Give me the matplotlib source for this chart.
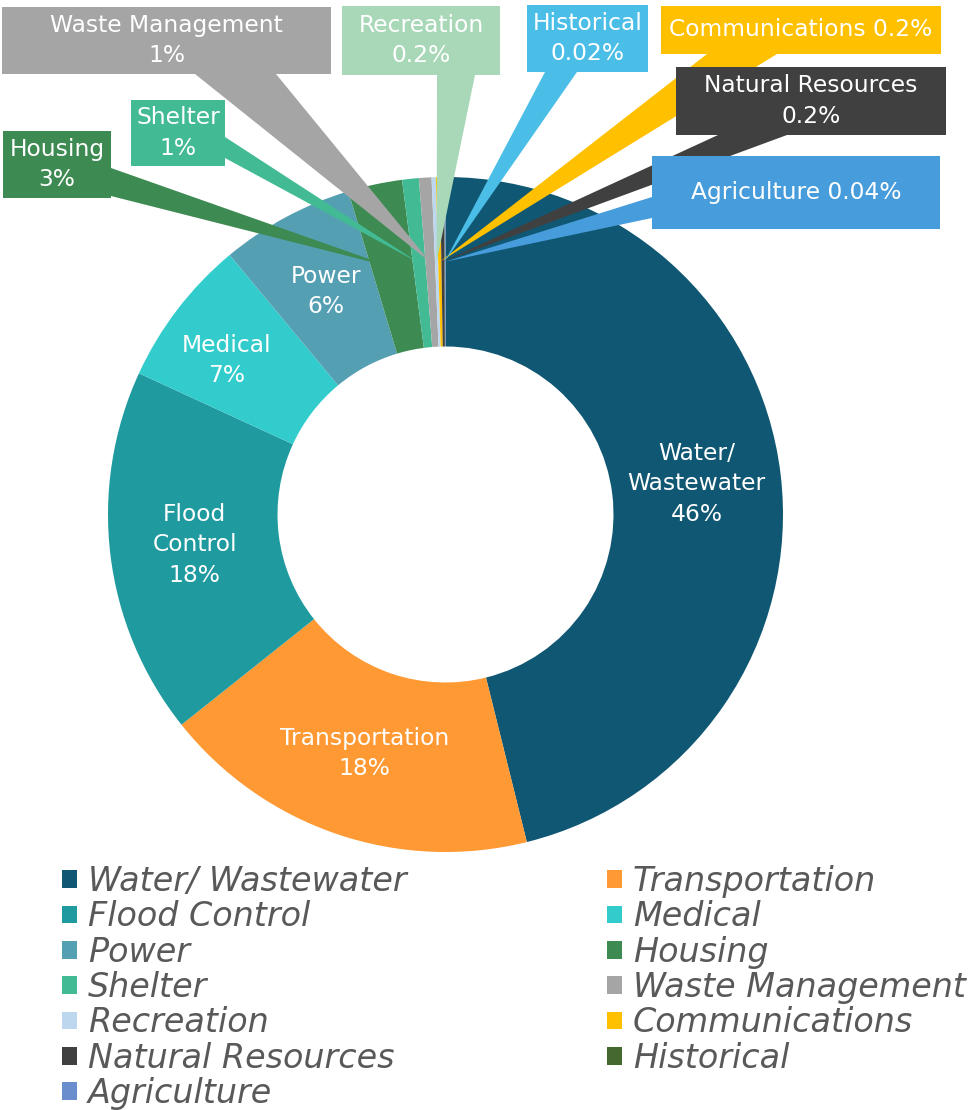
import matplotlib.pyplot as plt
from matplotlib.patches import Rectangle, Polygon
import numpy as np

# share of funding by sector (percent)
sectors = ["Water/ Wastewater", "Transportation", "Flood Control", "Medical",
           "Power", "Housing", "Shelter", "Waste Management", "Recreation",
           "Communications", "Natural Resources", "Historical", "Agriculture"]
shares = [46.2, 18.2, 17.6, 7.1, 6.4, 2.6, 0.8, 0.6, 0.2, 0.2, 0.2, 0.02, 0.04]
# names as they are wrapped on the ring
ring_names = ["Water/\nWastewater", "Transportation", "Flood\nControl", "Medical",
              "Power", "Housing", "Shelter", "Waste Management", "Recreation",
              "Communications", "Natural Resources", "Historical", "Agriculture"]

colors = ["#0F5772", "#FF9933", "#1F9BA0", "#33CCCC", "#559FB3", "#3D8B52",
          "#42BB95", "#A5A5A5", "#BDD7EE", "#FFC000", "#404040", "#44692E",
          "#6A8DCE"]
callout_colors = {5: "#3D8B52", 6: "#42BB95", 7: "#A5A5A5", 8: "#A9D8B8",
                  9: "#FFC000", 10: "#404040", 11: "#4BBEE8", 12: "#479CDB"}

W, H = 972, 1110
CX, CY = 445.5, 514.5      # ring centre, pixels from top-left
R_OUT, R_IN = 337.5, 168.0


def py(y):
    return H - y


def pct(v):
    return f"{v:.0f}%" if v >= 0.5 else f"{v:g}%"


fig = plt.figure(figsize=(W / 100, H / 100), dpi=100)
ax = fig.add_axes([0, 0, 1, 1])

wedges, _ = ax.pie(shares, colors=colors, startangle=90, counterclock=False,
                   radius=R_OUT, center=(CX, py(CY)),
                   wedgeprops=dict(width=R_OUT - R_IN, linewidth=0))
ax.set_xlim(0, W)
ax.set_ylim(0, H)
ax.set_aspect("equal")
ax.axis("off")

r_mid = (R_OUT + R_IN) / 2


def mid_point(w):
    a = np.radians((w.theta1 + w.theta2) / 2)
    return CX + r_mid * np.cos(a), py(CY) + r_mid * np.sin(a)


txt = dict(color="white", fontsize=16.8, ha="center", va="center",
           linespacing=1.4)

# labels sitting on the big slices
nudge = {3: -18}
for i in range(5):
    x, y = mid_point(wedges[i])
    ax.text(x + nudge.get(i, 0), y, f"{ring_names[i]}\n{pct(shares[i])}",
            zorder=5, **txt)

# callout boxes: (left, top, right, bottom), pointer base, one-line text
callouts = {
    5: ((3, 131, 111, 198), [(111, 168), (111, 196)], False),
    6: ((131, 100, 225, 166), [(225, 137), (225, 158)], False),
    7: ((2, 7, 331, 74), [(195, 74), (276, 74)], False),
    8: ((342, 6, 500, 75), [(437, 75), (475, 75)], False),
    9: ((661, 6, 941, 54), [(707, 54), (777, 54)], True),
    10: ((676, 67, 946, 135), [(718, 135), (787, 135)], False),
    11: ((527, 5, 648, 72), [(545, 72), (577, 72)], False),
    12: ((652, 156, 940, 229), [(652, 197), (652, 218)], True),
}

for i, (box, base, one_line) in callouts.items():
    c = callout_colors[i]
    z = 6 + i
    x0, y0, x1, y1 = box
    tip = mid_point(wedges[i])
    ax.add_patch(Polygon([(base[0][0], py(base[0][1])), tip,
                          (base[1][0], py(base[1][1]))],
                         closed=True, facecolor=c, edgecolor="none", zorder=z))
    ax.add_patch(Rectangle((x0, py(y1)), x1 - x0, y1 - y0, facecolor=c,
                           edgecolor="none", zorder=z))
    sep = " " if one_line else "\n"
    ax.text((x0 + x1) / 2, py((y0 + y1) / 2),
            f"{ring_names[i]}{sep}{pct(shares[i])}", zorder=z + 0.5, **txt)

# two-column legend, filled row by row
leg_kw = dict(loc="upper left", frameon=False, borderpad=0, borderaxespad=0,
              handlelength=0.45, handleheight=0.45, handletextpad=0.33,
              labelspacing=0.07, labelcolor="#595959",
              prop=dict(size=24, style="italic"))
left = [i for i in range(len(sectors)) if i % 2 == 0]
right = [i for i in range(len(sectors)) if i % 2 == 1]
leg1 = ax.legend([wedges[i] for i in left], [sectors[i] for i in left],
                 bbox_to_anchor=(62 / W, 1 - 865 / H), **leg_kw)
ax.add_artist(leg1)
ax.legend([wedges[i] for i in right], [sectors[i] for i in right],
          bbox_to_anchor=(607 / W, 1 - 865 / H), **leg_kw)

fig.savefig("out.png", dpi=100)
